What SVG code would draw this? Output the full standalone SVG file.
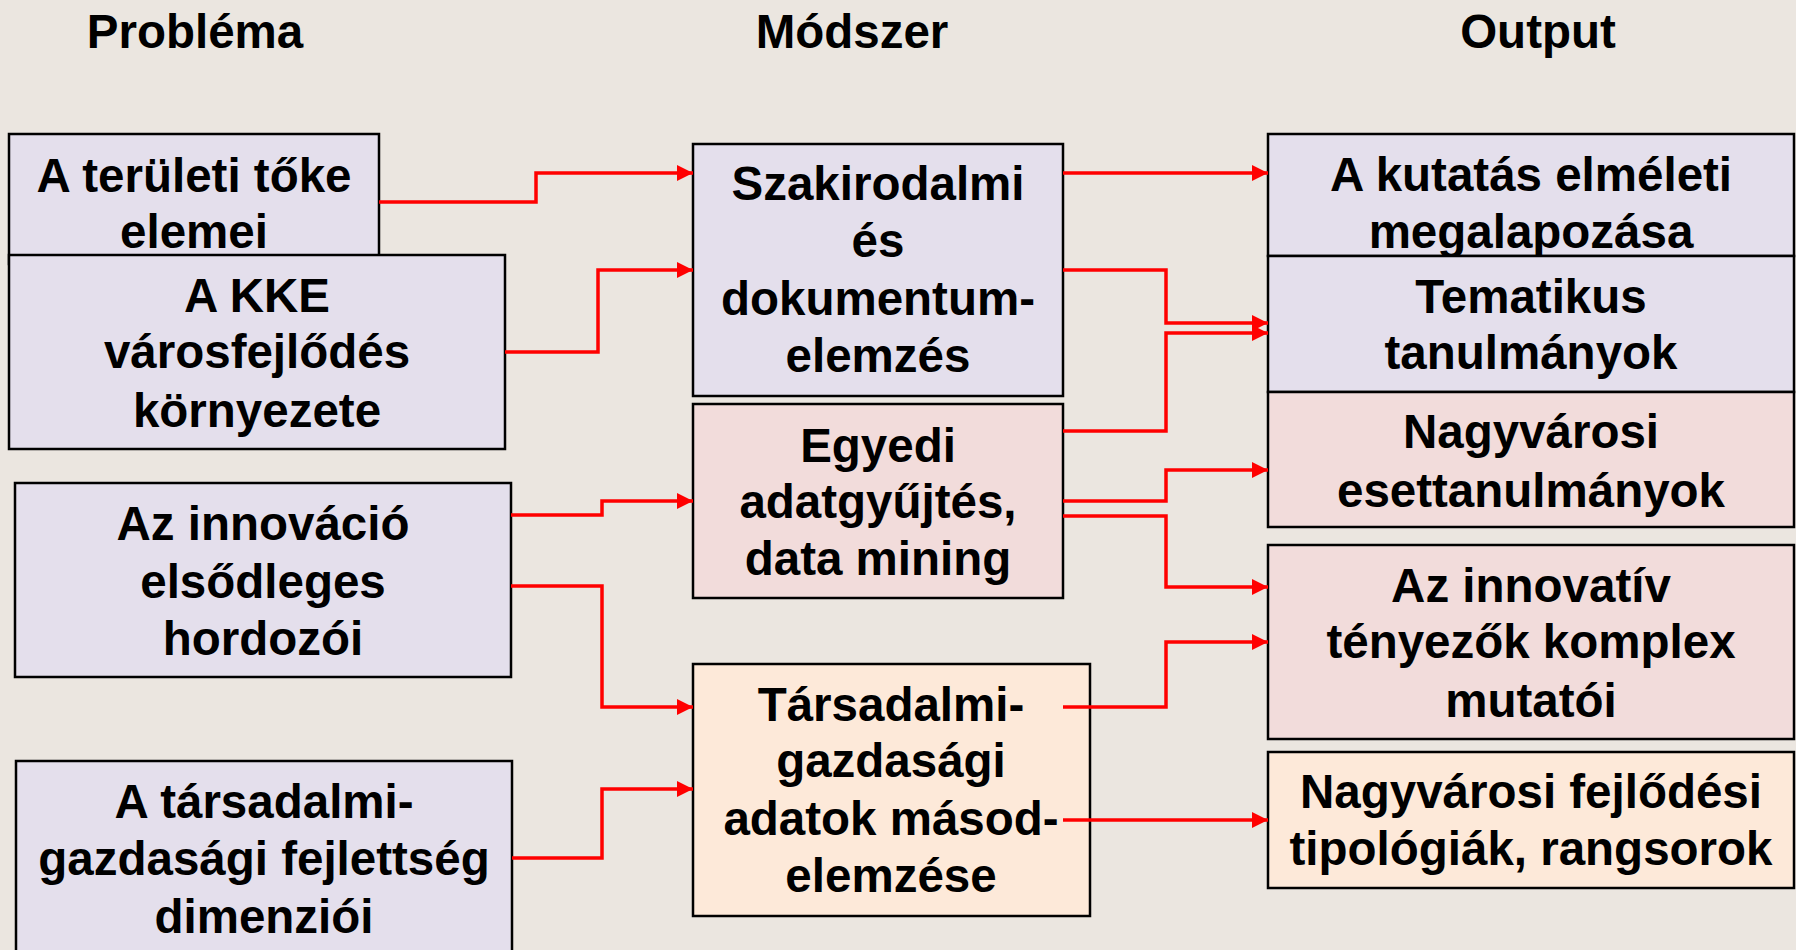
<svg xmlns="http://www.w3.org/2000/svg" width="1796" height="950" viewBox="0 0 1796 950">
<style>
.t{font-family:"Liberation Sans",Arial,sans-serif;font-weight:bold;font-size:47.5px;fill:#000;text-anchor:middle}
.box{stroke:#000;stroke-width:2.5}
.lav{fill:#E4DFEC}
.pink{fill:#F2DCDB}
.peach{fill:#FDE9D9}
.c{fill:none;stroke:#FF0000;stroke-width:3.5;marker-end:url(#ah)}
</style>
<defs>
<marker id="ah" markerUnits="userSpaceOnUse" markerWidth="17" markerHeight="17" refX="16" refY="8" orient="auto">
<path d="M0,0 L16,8 L0,16 z" fill="#FF0000"/>
</marker>
</defs>
<rect x="0" y="0" width="1796" height="950" fill="#EBE6E0"/>
<g id="titles">
<text class="t" x="195" y="48">Probléma</text>
<text class="t" x="852" y="48">Módszer</text>
<text class="t" x="1538" y="48">Output</text>
</g>
<g id="B1"><rect class="box lav" x="9" y="134" width="370" height="130"/>
<text class="t" x="194" y="192">A területi tőke</text><text class="t" x="194" y="248">elemei</text></g>
<g id="B2"><rect class="box lav" x="9" y="255" width="496" height="194"/>
<text class="t" x="257" y="312">A KKE</text><text class="t" x="257" y="368">városfejlődés</text><text class="t" x="257" y="427">környezete</text></g>
<g id="B3"><rect class="box lav" x="15" y="483" width="496" height="194"/>
<text class="t" x="263" y="540">Az innováció</text><text class="t" x="263" y="598">elsődleges</text><text class="t" x="263" y="655">hordozói</text></g>
<g id="B4"><rect class="box lav" x="16" y="761" width="496" height="200"/>
<text class="t" x="264" y="818">A társadalmi-</text><text class="t" x="264" y="875">gazdasági fejlettség</text><text class="t" x="264" y="933">dimenziói</text></g>
<g id="M1"><rect class="box lav" x="693" y="144" width="370" height="252"/>
<text class="t" x="878" y="200">Szakirodalmi</text><text class="t" x="878" y="257">és</text><text class="t" x="878" y="315">dokumentum-</text><text class="t" x="878" y="372">elemzés</text></g>
<g id="M2"><rect class="box pink" x="693" y="404" width="370" height="194"/>
<text class="t" x="878" y="462">Egyedi</text><text class="t" x="878" y="518">adatgyűjtés,</text><text class="t" x="878" y="575">data mining</text></g>
<g id="M3"><rect class="box peach" x="693" y="664" width="397" height="252"/>
<text class="t" x="891" y="721">Társadalmi-</text><text class="t" x="891" y="777">gazdasági</text><text class="t" x="891" y="835">adatok másod-</text><text class="t" x="891" y="892">elemzése</text></g>
<g id="O1"><rect class="box lav" x="1268" y="134" width="526" height="122"/>
<text class="t" x="1531" y="191">A kutatás elméleti</text><text class="t" x="1531" y="248">megalapozása</text></g>
<g id="O2"><rect class="box lav" x="1268" y="256" width="526" height="136"/>
<text class="t" x="1531" y="313">Tematikus</text><text class="t" x="1531" y="369">tanulmányok</text></g>
<g id="O3"><rect class="box pink" x="1268" y="392" width="526" height="135"/>
<text class="t" x="1531" y="448">Nagyvárosi</text><text class="t" x="1531" y="507">esettanulmányok</text></g>
<g id="O4"><rect class="box pink" x="1268" y="545" width="526" height="194"/>
<text class="t" x="1531" y="602">Az innovatív</text><text class="t" x="1531" y="658">tényezők komplex</text><text class="t" x="1531" y="717">mutatói</text></g>
<g id="O5"><rect class="box peach" x="1268" y="752" width="526" height="136"/>
<text class="t" x="1531" y="808">Nagyvárosi fejlődési</text><text class="t" x="1531" y="865">tipológiák, rangsorok</text></g>
<g id="connectors">
<path class="c" d="M379,202 H536 V173 H693"/>
<path class="c" d="M505,352 H598 V270 H693"/>
<path class="c" d="M511,515 H602 V501 H693"/>
<path class="c" d="M511,586 H602 V707 H693"/>
<path class="c" d="M512,858 H602 V789 H693"/>
<path class="c" d="M1063,173 H1268"/>
<path class="c" d="M1063,270 H1166 V323 H1268"/>
<path class="c" d="M1063,431 H1166 V333 H1268"/>
<path class="c" d="M1063,501 H1166 V470 H1268"/>
<path class="c" d="M1063,516 H1166 V587 H1268"/>
<path class="c" d="M1063,707 H1166 V642 H1268"/>
<path class="c" d="M1063,820 H1268"/>
</g>
</svg>
